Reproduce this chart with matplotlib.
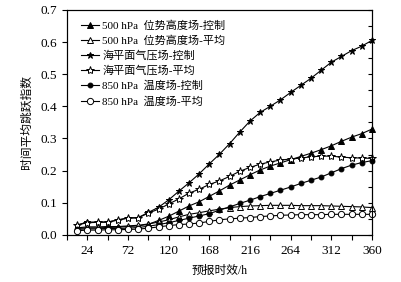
import numpy as np
import matplotlib.pyplot as plt
from matplotlib.ticker import MultipleLocator

plt.rcParams['font.family'] = ['Liberation Serif', 'Noto Sans CJK SC']
plt.rcParams['axes.unicode_minus'] = False

# forecast lead time (h)
hours = list(range(12, 361, 12))

h500_ctrl = [0.020, 0.022, 0.022, 0.023, 0.024, 0.026, 0.028, 0.033, 0.045, 0.058,
             0.074, 0.090, 0.103, 0.120, 0.137, 0.155, 0.171, 0.187, 0.202, 0.214,
             0.224, 0.234, 0.244, 0.254, 0.265, 0.277, 0.291, 0.304, 0.315, 0.329]
h500_mean = [0.022, 0.025, 0.025, 0.026, 0.026, 0.028, 0.030, 0.034, 0.040, 0.047,
             0.056, 0.064, 0.069, 0.075, 0.080, 0.085, 0.088, 0.090, 0.091, 0.092,
             0.092, 0.092, 0.091, 0.091, 0.091, 0.090, 0.089, 0.088, 0.087, 0.085]
slp_ctrl = [0.031, 0.040, 0.040, 0.040, 0.047, 0.053, 0.054, 0.070, 0.086, 0.109,
            0.136, 0.162, 0.190, 0.221, 0.251, 0.284, 0.320, 0.354, 0.381, 0.400,
            0.420, 0.443, 0.465, 0.487, 0.512, 0.537, 0.555, 0.573, 0.587, 0.605]
slp_mean = [0.031, 0.038, 0.039, 0.040, 0.046, 0.052, 0.053, 0.068, 0.080, 0.096,
            0.112, 0.130, 0.142, 0.157, 0.168, 0.182, 0.198, 0.210, 0.220, 0.227,
            0.233, 0.236, 0.239, 0.243, 0.245, 0.245, 0.242, 0.240, 0.239, 0.238]
t850_ctrl = [0.017, 0.019, 0.019, 0.020, 0.020, 0.021, 0.023, 0.027, 0.032, 0.038,
             0.045, 0.052, 0.059, 0.066, 0.077, 0.087, 0.098, 0.108, 0.119, 0.129,
             0.139, 0.149, 0.160, 0.170, 0.180, 0.193, 0.206, 0.217, 0.225, 0.231]
t850_mean = [0.013, 0.015, 0.015, 0.016, 0.016, 0.017, 0.018, 0.021, 0.025, 0.029,
             0.032, 0.034, 0.037, 0.042, 0.047, 0.050, 0.052, 0.054, 0.057, 0.059,
             0.061, 0.062, 0.063, 0.063, 0.063, 0.064, 0.064, 0.064, 0.064, 0.064]

labels = ['500 hPa  位势高度场-控制', '500 hPa  位势高度场-平均',
          '海平面气压场-控制', '海平面气压场-平均',
          '850 hPa  温度场-控制', '850 hPa  温度场-平均']

fig = plt.figure(figsize=(4.02, 2.82), dpi=100)
ax = fig.add_axes([0.167, 0.167, 0.758, 0.798])

series = [(h500_ctrl, '^', 'black', 4.0),
          (h500_mean, '^', 'white', 4.5),
          (slp_ctrl, '*', 'black', 5.0),
          (slp_mean, '*', 'white', 6.0),
          (t850_ctrl, 'o', 'black', 3.5),
          (t850_mean, 'o', 'white', 4.5)]
for (vals, m, fc, ms), lab in zip(series, labels):
    ax.plot(hours, vals, color='black', lw=0.8, marker=m, mfc=fc, mec='black',
            mew=0.7, ms=ms, label=lab, clip_on=False, zorder=3)

ax.set_xlim(0, 360)
ax.set_ylim(0, 0.7)
ax.set_xticks(range(24, 361, 48))
ax.xaxis.set_minor_locator(MultipleLocator(24))
ax.yaxis.set_major_locator(MultipleLocator(0.1))
ax.yaxis.set_major_formatter(plt.FormatStrFormatter('%.1f'))
ax.tick_params(axis='both', which='both', direction='out', labelsize=9.5,
               width=0.8, length=3.5, top=False)
ax.tick_params(axis='x', which='minor', length=3.5)

# inward ticks on right spine
ax2 = ax.twinx()
ax2.set_ylim(0, 0.7)
ax2.yaxis.set_major_locator(MultipleLocator(0.05))
ax2.tick_params(axis='y', direction='in', length=3, width=0.8, labelright=False)

for a in (ax, ax2):
    for s in a.spines.values():
        s.set_linewidth(0.8)

ax.set_xlabel('预报时效/h', fontsize=8.5, labelpad=6)
ax.set_ylabel('时间平均跳跃指数', fontsize=8.5, labelpad=6)

ax.legend(loc='upper left', frameon=False, fontsize=8, handlelength=1.6,
          handletextpad=0.3, labelspacing=0.42, borderaxespad=0.3,
          bbox_to_anchor=(0.02, 0.99))

fig.savefig('out.png', dpi=100)
